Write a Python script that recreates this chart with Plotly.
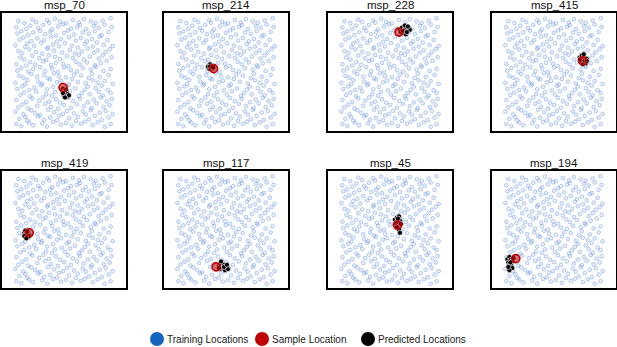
import plotly.graph_objects as go

panel_titles = ["msp_70", "msp_214", "msp_228", "msp_415", "msp_419", "msp_117", "msp_45", "msp_194"]

train_x = [
    0.02, 0.07, 0.15, 0.19, 0.28, 0.33, 0.39, 0.47, 0.52, 0.58, 0.67, 0.71, 0.79, 0.84, 0.91, 0.97,
    0.05, 0.11, 0.13, 0.24, 0.30, 0.36, 0.43, 0.45, 0.55, 0.62, 0.64, 0.75, 0.81, 0.88, 0.95,
    0.01, 0.09, 0.17, 0.21, 0.26, 0.34, 0.40, 0.49, 0.53, 0.60, 0.69, 0.72, 0.77, 0.86, 0.92, 0.99,
    0.04, 0.08, 0.14, 0.23, 0.31, 0.37, 0.44, 0.50, 0.57, 0.63, 0.70, 0.78, 0.83, 0.90, 0.96,
    0.02, 0.12, 0.18, 0.25, 0.29, 0.35, 0.42, 0.46, 0.54, 0.59, 0.66, 0.74, 0.80, 0.87, 0.93, 0.98,
    0.06, 0.10, 0.16, 0.22, 0.32, 0.38, 0.41, 0.51, 0.56, 0.65, 0.68, 0.76, 0.85, 0.89, 0.97,
    0.03, 0.08, 0.15, 0.20, 0.27, 0.33, 0.39, 0.48, 0.53, 0.61, 0.71, 0.74, 0.82, 0.88, 0.94,
    0.01, 0.11, 0.13, 0.24, 0.28, 0.36, 0.43, 0.47, 0.55, 0.58, 0.64, 0.72, 0.79, 0.84, 0.91, 0.99,
    0.05, 0.09, 0.17, 0.23, 0.30, 0.34, 0.40, 0.45, 0.52, 0.60, 0.67, 0.75, 0.78, 0.86, 0.95,
    0.03, 0.07, 0.14, 0.19, 0.26, 0.31, 0.38, 0.44, 0.50, 0.57, 0.63, 0.69, 0.77, 0.82, 0.90, 0.97,
    0.02, 0.12, 0.16, 0.21, 0.29, 0.37, 0.42, 0.49, 0.54, 0.62, 0.66, 0.73, 0.81, 0.87, 0.93,
    0.06, 0.10, 0.18, 0.25, 0.32, 0.35, 0.41, 0.46, 0.53, 0.59, 0.65, 0.70, 0.76, 0.85, 0.89, 0.98,
    0.04, 0.08, 0.15, 0.22, 0.28, 0.33, 0.40, 0.48, 0.56, 0.61, 0.68, 0.74, 0.80, 0.84, 0.92, 0.96,
    0.01, 0.11, 0.13, 0.20, 0.27, 0.34, 0.39, 0.45, 0.51, 0.58, 0.64, 0.71, 0.79, 0.83, 0.90, 0.99,
    0.05, 0.09, 0.17, 0.23, 0.30, 0.37, 0.43, 0.47, 0.55, 0.62, 0.67, 0.73, 0.78, 0.86, 0.94,
    0.03, 0.07, 0.14, 0.19, 0.26, 0.31, 0.36, 0.42, 0.50, 0.54, 0.60, 0.69, 0.75, 0.81, 0.88, 0.95,
    0.02, 0.12, 0.16, 0.24, 0.29, 0.38, 0.44, 0.49, 0.57, 0.63, 0.66, 0.72, 0.80, 0.85, 0.91, 0.98,
    0.04, 0.10, 0.18, 0.22, 0.33, 0.35, 0.41, 0.46, 0.52, 0.59, 0.65, 0.70, 0.77, 0.82, 0.89, 0.97,
]
train_y = [
    0.031, 0.012, 0.044, 0.020, 0.037, 0.008, 0.050, 0.026, 0.041, 0.015, 0.033, 0.052, 0.022, 0.046, 0.006, 0.029,
    0.078, 0.094, 0.061, 0.101, 0.070, 0.088, 0.064, 0.107, 0.082, 0.058, 0.097, 0.073, 0.104, 0.067, 0.090,
    0.142, 0.118, 0.155, 0.131, 0.113, 0.160, 0.137, 0.122, 0.150, 0.127, 0.145, 0.116, 0.158, 0.134, 0.149, 0.121,
    0.181, 0.207, 0.172, 0.196, 0.214, 0.186, 0.169, 0.203, 0.177, 0.211, 0.191, 0.175, 0.218, 0.184, 0.200,
    0.248, 0.229, 0.262, 0.241, 0.271, 0.233, 0.255, 0.224, 0.266, 0.238, 0.259, 0.227, 0.251, 0.269, 0.236, 0.257,
    0.292, 0.315, 0.281, 0.324, 0.300, 0.286, 0.319, 0.296, 0.327, 0.283, 0.309, 0.298, 0.321, 0.288, 0.312,
    0.347, 0.371, 0.338, 0.359, 0.380, 0.344, 0.366, 0.335, 0.376, 0.352, 0.341, 0.369, 0.355, 0.378, 0.336,
    0.402, 0.391, 0.428, 0.414, 0.395, 0.433, 0.407, 0.421, 0.389, 0.437, 0.411, 0.398, 0.426, 0.404, 0.419, 0.393,
    0.466, 0.449, 0.481, 0.458, 0.472, 0.443, 0.489, 0.461, 0.452, 0.477, 0.468, 0.446, 0.485, 0.455, 0.474,
    0.512, 0.537, 0.503, 0.526, 0.544, 0.508, 0.531, 0.499, 0.540, 0.517, 0.505, 0.534, 0.521, 0.546, 0.510, 0.528,
    0.571, 0.558, 0.589, 0.566, 0.597, 0.561, 0.583, 0.575, 0.553, 0.592, 0.568, 0.586, 0.559, 0.579, 0.600,
    0.631, 0.612, 0.648, 0.624, 0.609, 0.652, 0.637, 0.618, 0.644, 0.627, 0.655, 0.614, 0.639, 0.621, 0.650, 0.633,
    0.688, 0.671, 0.703, 0.682, 0.665, 0.709, 0.693, 0.676, 0.698, 0.668, 0.686, 0.711, 0.674, 0.695, 0.680, 0.706,
    0.741, 0.726, 0.758, 0.735, 0.764, 0.722, 0.747, 0.731, 0.760, 0.738, 0.719, 0.752, 0.729, 0.766, 0.744, 0.733,
    0.792, 0.811, 0.779, 0.803, 0.787, 0.818, 0.774, 0.797, 0.814, 0.783, 0.806, 0.776, 0.799, 0.821, 0.789,
    0.847, 0.866, 0.834, 0.858, 0.872, 0.841, 0.862, 0.829, 0.853, 0.875, 0.838, 0.857, 0.845, 0.868, 0.832, 0.861,
    0.902, 0.889, 0.918, 0.897, 0.925, 0.884, 0.911, 0.930, 0.893, 0.907, 0.922, 0.886, 0.915, 0.899, 0.928, 0.905,
    0.958, 0.941, 0.972, 0.950, 0.966, 0.944, 0.981, 0.953, 0.939, 0.969, 0.947, 0.977, 0.956, 0.943, 0.964, 0.985,
]

sample_x = [0.49, 0.375, 0.59, 0.79, 0.15, 0.40, 0.575, 0.115]
sample_y = [0.36, 0.53, 0.86, 0.60, 0.47, 0.16, 0.54, 0.235]

pred_x = [
    [0.49, 0.50, 0.51, 0.52, 0.51, 0.53, 0.54, 0.50, 0.52, 0.55, 0.51, 0.49],
    [0.32, 0.33, 0.35, 0.36, 0.33, 0.32, 0.34, 0.36, 0.34, 0.37],
    [0.60, 0.62, 0.65, 0.68, 0.64, 0.66, 0.69, 0.61, 0.65, 0.70, 0.63, 0.67, 0.68],
    [0.76, 0.78, 0.80, 0.83, 0.77, 0.82, 0.79, 0.78, 0.81, 0.76, 0.83, 0.80],
    [0.10, 0.11, 0.12, 0.14, 0.11, 0.13, 0.10, 0.14, 0.15, 0.12, 0.13],
    [0.43, 0.45, 0.48, 0.50, 0.44, 0.47, 0.49, 0.52, 0.45, 0.48, 0.43, 0.51],
    [0.55, 0.57, 0.59, 0.60, 0.56, 0.58, 0.61, 0.59, 0.57, 0.60, 0.58],
    [0.03, 0.05, 0.06, 0.08, 0.04, 0.05, 0.07, 0.08, 0.05, 0.06, 0.04, 0.09],
]
pred_y = [
    [0.35, 0.32, 0.30, 0.29, 0.33, 0.31, 0.28, 0.29, 0.34, 0.29, 0.27, 0.31],
    [0.54, 0.56, 0.55, 0.53, 0.53, 0.55, 0.57, 0.55, 0.55, 0.54],
    [0.88, 0.90, 0.89, 0.87, 0.85, 0.84, 0.90, 0.86, 0.92, 0.88, 0.87, 0.86, 0.91],
    [0.63, 0.65, 0.64, 0.62, 0.59, 0.58, 0.57, 0.61, 0.60, 0.61, 0.60, 0.66],
    [0.47, 0.45, 0.44, 0.43, 0.49, 0.46, 0.44, 0.46, 0.44, 0.42, 0.48],
    [0.17, 0.19, 0.18, 0.16, 0.14, 0.15, 0.13, 0.14, 0.21, 0.16, 0.15, 0.18],
    [0.59, 0.61, 0.62, 0.58, 0.56, 0.57, 0.55, 0.50, 0.52, 0.47, 0.60],
    [0.23, 0.25, 0.22, 0.21, 0.20, 0.18, 0.17, 0.15, 0.13, 0.20, 0.16, 0.24],
]

legend_names = ["Training Locations", "Sample Location", "Predicted Locations"]
legend_colors = ["#1565C0", "#C00000", "#000000"]

W, H = 617, 347
col_left = [2, 164, 328, 492]
box_w = 124
row_top = [13, 171]
row_bottom = [131, 288]
legend_marker_px = [157, 262, 368]
legend_y_px = 339

fig = go.Figure()
layout = dict(
    width=W, height=H, margin=dict(l=0, r=0, t=0, b=0),
    paper_bgcolor="white", plot_bgcolor="white",
    font=dict(family="Liberation Sans, Arial, sans-serif", size=11, color="#222"),
    annotations=[], shapes=[], showlegend=False,
)

for i, title in enumerate(panel_titles):
    r, c = divmod(i, 4)
    ax = "" if i == 0 else str(i + 1)
    xd = [col_left[c] / W, (col_left[c] + box_w) / W]
    yd = [(H - row_bottom[r]) / H, (H - row_top[r]) / H]
    axis_common = dict(showgrid=False, zeroline=False, showticklabels=False, ticks="",
                       showline=True, mirror=True, linecolor="black", linewidth=1.5, fixedrange=True)
    layout["xaxis" + ax] = dict(domain=xd, range=[-0.125, 1.125], anchor="y" + ax, **axis_common)
    layout["yaxis" + ax] = dict(domain=yd, range=[-0.032, 1.032], anchor="x" + ax, **axis_common)
    xr, yr = "x" + ax, "y" + ax
    fig.add_trace(go.Scatter(
        x=train_x, y=train_y, xaxis=xr, yaxis=yr, mode="markers", showlegend=False,
        marker=dict(size=3.8, color="rgba(140,175,230,0.2)",
                    line=dict(color="rgba(55,110,210,0.45)", width=0.7)),
        hoverinfo="skip"))
    fig.add_trace(go.Scatter(
        x=pred_x[i], y=pred_y[i], xaxis=xr, yaxis=yr, mode="markers", showlegend=False,
        marker=dict(size=5, color="black", line=dict(color="white", width=0.6))))
    fig.add_trace(go.Scatter(
        x=[sample_x[i]], y=[sample_y[i]], xaxis=xr, yaxis=yr, mode="markers", showlegend=False,
        marker=dict(size=8, color="rgba(200,0,0,0.55)", line=dict(color="#C00000", width=1.6))))
    layout["annotations"].append(dict(
        text=title, xref="paper", yref="paper",
        x=(col_left[c] + box_w / 2) / W, y=(H - (row_top[r] - 8)) / H,
        xanchor="center", yanchor="middle", showarrow=False,
        font=dict(size=11.5, color="#111")))

# manual legend (marker circles + labels)
rad = 7
for name, color, px in zip(legend_names, legend_colors, legend_marker_px):
    layout["shapes"].append(dict(
        type="circle", xref="paper", yref="paper",
        x0=(px - rad) / W, x1=(px + rad) / W,
        y0=(H - legend_y_px - rad) / H, y1=(H - legend_y_px + rad) / H,
        fillcolor=color, line=dict(color=color, width=0)))
    layout["annotations"].append(dict(
        text=name, xref="paper", yref="paper",
        x=(px + rad + 1) / W, y=(H - legend_y_px) / H,
        xanchor="left", yanchor="middle", showarrow=False,
        font=dict(size=10, color="#222")))

fig.update_layout(**layout)
fig.write_html("out.html", config={"displayModeBar": False},
               post_script="document.body.style.margin='0px';")
